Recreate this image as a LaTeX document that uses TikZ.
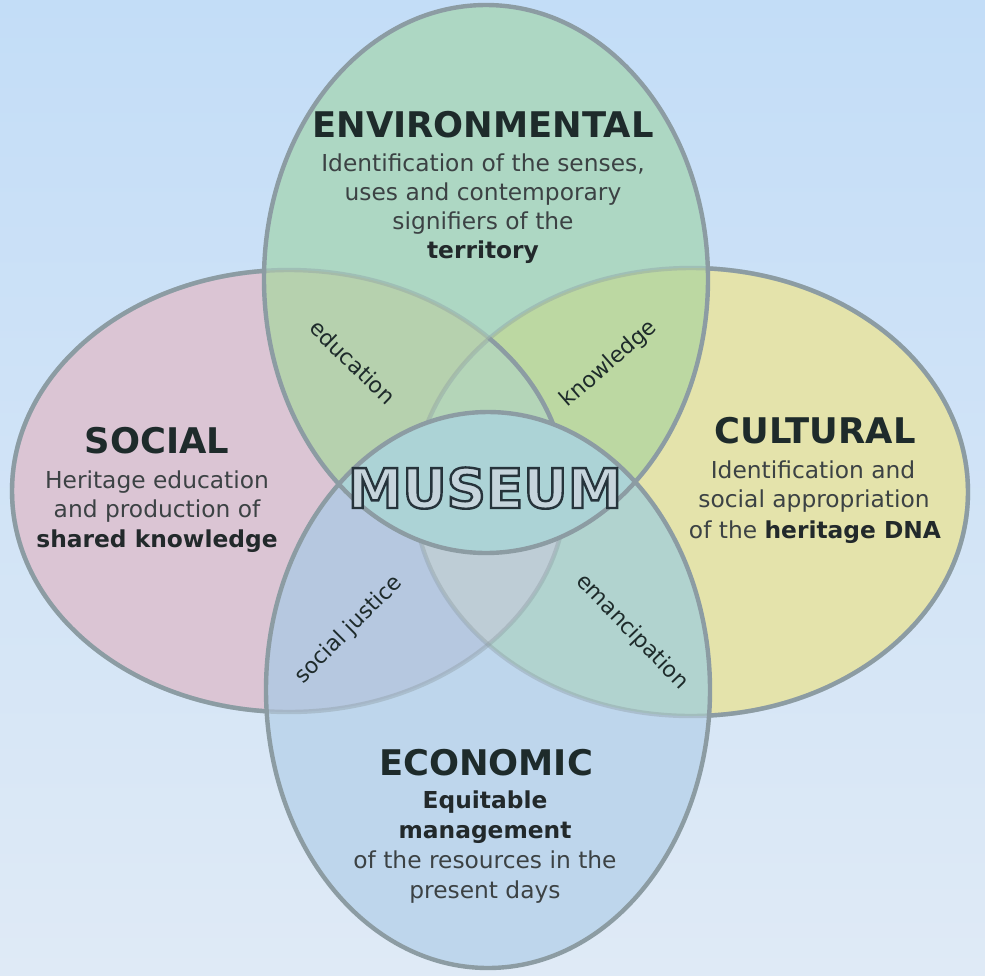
\documentclass[tikz,border=0pt]{standalone}
\usepackage{fontspec}
\setmainfont{DejaVu Sans}
\definecolor{bgtop}{HTML}{C3DDF7}
\definecolor{bgbot}{HTML}{DFEAF6}
\definecolor{cpink}{HTML}{DBC5D4}
\definecolor{cyellow}{HTML}{E4E3AB}
\definecolor{cgreen}{HTML}{ADD7C3}
\definecolor{cblue}{HTML}{BED6EC}
\definecolor{cGP}{HTML}{B6D1AE}
\definecolor{cGY}{HTML}{BCD8A2}
\definecolor{cGPY}{HTML}{B4D5B8}
\definecolor{cBP}{HTML}{B6C8E0}
\definecolor{cBY}{HTML}{B1D3CF}
\definecolor{cBPY}{HTML}{BECDD6}
\definecolor{cmus}{HTML}{ACD3D6}
\definecolor{cedge}{HTML}{8C9CA3}
\definecolor{ctitle}{HTML}{1E2B2B}
\definecolor{cbody}{HTML}{3C4244}
\definecolor{cbold}{HTML}{22292B}
\definecolor{museumfill}{HTML}{C6D4DC}
\newcommand{\outlinedword}[1]{{\color{museumfill}\special{pdf:literal direct 0.15 0.20 0.23 RG 2 Tr 1.8 w}#1\special{pdf:literal direct 0 Tr}}}
\tikzset{
  edge/.style={draw=cedge, line width=3.3pt},
  titletext/.style={font=\bfseries\fontsize{26.5}{30}\selectfont, text=ctitle, inner sep=0pt, anchor=base},
  bodytext/.style={font=\fontsize{17.5}{21}\selectfont, text=cbody, inner sep=0pt, anchor=base},
  boldtext/.style={font=\bfseries\fontsize{17.5}{21}\selectfont, text=cbold, inner sep=0pt, anchor=base},
  linklabel/.style={font=\fontsize{16.5}{19}\selectfont, text=ctitle, inner sep=0pt}
}
\def\Ppath{(289,491) ellipse [x radius=277, y radius=221]}
\def\Ypath{(691,492) ellipse [x radius=277, y radius=224]}
\def\Gpath{(486,279) ellipse [x radius=222, y radius=274]}
\def\Bpath{(488,690) ellipse [x radius=222, y radius=278]}
\def\Rpath{(-50,-50) rectangle (1050,1050)}
\begin{document}
\begin{tikzpicture}[x=0.75pt,y=-0.75pt]
\useasboundingbox (0,0) rectangle (985,975);
\shade[top color=bgtop, bottom color=bgbot] (0,0) rectangle (985,975);
% base fills
\fill[cpink] \Ppath;
\fill[cyellow] \Ypath;
\fill[cgreen] \Gpath;
\fill[cblue] \Bpath;
% overlaps with green
\begin{scope}
  \clip \Gpath;
  \fill[cGP] \Ppath;
  \fill[cGY] \Ypath;
  \clip \Ppath;
  \fill[cGPY] \Ypath;
\end{scope}
% overlaps with blue
\begin{scope}
  \clip \Bpath;
  \fill[cBP] \Ppath;
  \fill[cBY] \Ypath;
  \clip \Ppath;
  \fill[cBPY] \Ypath;
\end{scope}
% faint hidden edges
\draw[edge, draw opacity=0.4] \Ppath;
\draw[edge, draw opacity=0.4] \Ypath;
% museum lens
\begin{scope}
  \clip \Gpath;
  \clip \Bpath;
  \fill[cmus] \Rpath;
\end{scope}
% strong visible edges of pink and yellow
\begin{scope}[even odd rule]
  \clip \Rpath \Gpath;
  \clip \Rpath \Bpath;
  \draw[edge] \Ppath;
  \draw[edge] \Ypath;
\end{scope}
\begin{scope}[even odd rule]
  \clip \Gpath;
  \clip \Ypath;
  \clip \Rpath \Bpath;
  \draw[edge] \Ppath;
\end{scope}
\draw[edge] \Gpath;
\draw[edge] \Bpath;
% ENVIRONMENTAL
\node[titletext] (envt) at (483,137) {ENVIRONMENTAL};
\node[bodytext] (env1) at (483,171) {Identification of the senses,};
\node[bodytext] (env2) at (483,200) {uses and contemporary};
\node[bodytext] (env3) at (483,229) {signifiers of the};
\node[boldtext] (env4) at (483,258) {territory};
% SOCIAL
\node[titletext] (soct) at (157,453) {SOCIAL};
\node[bodytext] (soc1) at (157,488) {Heritage education};
\node[bodytext] (soc2) at (157,517) {and production of};
\node[boldtext] (soc3) at (157,547) {shared knowledge};
% CULTURAL
\node[titletext] (cult) at (815,443) {CULTURAL};
\node[bodytext] (cul1) at (813,478) {Identification and};
\node[bodytext] (cul2) at (814,507) {social appropriation};
\node[bodytext] (cul3) at (815,538) {of the \textbf{\color{cbold}heritage DNA}};
% ECONOMIC
\node[titletext] (ecot) at (486,775) {ECONOMIC};
\node[boldtext] (eco1) at (485,808) {Equitable};
\node[boldtext] (eco2) at (485,838) {management};
\node[bodytext] (eco3) at (485,868) {of the resources in the};
\node[bodytext] (eco4) at (485,898) {present days};
% MUSEUM
\node[inner sep=0pt, anchor=base, font=\bfseries\fontsize{41}{46}\selectfont] (mus) at (485,508)
  {\outlinedword{MUSEUM}};
% link labels
\node[linklabel, rotate=-44] (educ) at (353,362) {education};
\node[linklabel, rotate=41] (know) at (609,364) {knowledge};
\node[linklabel, rotate=45] (sjus) at (349,630) {social justice};
\node[linklabel, rotate=-46] (eman) at (632,632) {emancipation};
\end{tikzpicture}
\end{document}
